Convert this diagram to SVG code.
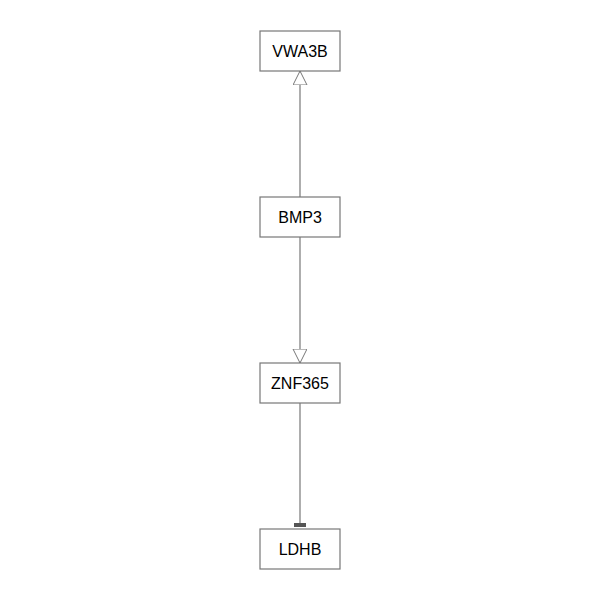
<svg xmlns="http://www.w3.org/2000/svg" width="600" height="600" viewBox="0 0 600 600">
<style>
.node rect{fill:#fff;stroke:#777;stroke-width:1.2}
.node text{font-family:"Liberation Sans",Arial,sans-serif;font-size:16px;fill:#000;text-anchor:middle;dominant-baseline:central}
.edge{stroke:#777;stroke-width:1.2;fill:none}
</style>
<defs>
<marker id="tri" markerWidth="16" markerHeight="16" refX="14" refY="7" orient="auto" markerUnits="userSpaceOnUse">
<path d="M0,0 L14,7 L0,14 Z" fill="#fff" stroke="#777" stroke-width="1"/>
</marker>
</defs>
<rect width="600" height="600" fill="#fff"/>
<g id="connectors">
<line class="edge" x1="300" y1="197" x2="300" y2="71" marker-end="url(#tri)"/>
<line class="edge" x1="300" y1="237" x2="300" y2="363" marker-end="url(#tri)"/>
<line class="edge" x1="300" y1="403" x2="300" y2="523"/>
<rect x="294" y="523" width="12" height="4" fill="#555"/>
</g>
<g id="VWA3B" class="node"><rect x="260" y="31" width="80" height="40"/><text x="300" y="51">VWA3B</text></g>
<g id="BMP3" class="node"><rect x="260" y="197" width="80" height="40"/><text x="300" y="217">BMP3</text></g>
<g id="ZNF365" class="node"><rect x="260" y="363" width="80" height="40"/><text x="300" y="383">ZNF365</text></g>
<g id="LDHB" class="node"><rect x="260" y="529" width="80" height="40"/><text x="300" y="549">LDHB</text></g>
</svg>
